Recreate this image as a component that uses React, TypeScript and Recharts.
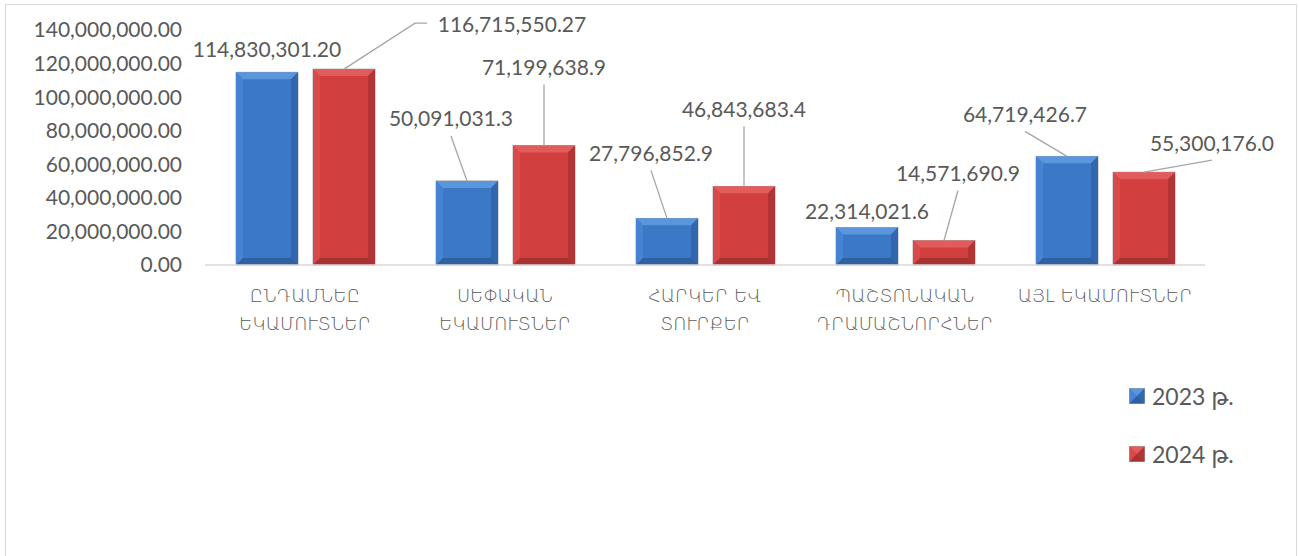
import { Bar, BarChart, LabelList, XAxis, YAxis } from "recharts";

const categories = [
  "ԸՆԴԱՄՆԵԸ\nԵԿԱՄՈՒՏՆԵՐ",
  "ՍԵՓԱԿԱՆ\nԵԿԱՄՈՒՏՆԵՐ",
  "ՀԱՐԿԵՐ ԵՎ\nՏՈՒՐՔԵՐ",
  "ՊԱՇՏՈՆԱԿԱՆ\nԴՐԱՄԱՇՆՈՐՀՆԵՐ",
  "ԱՅԼ ԵԿԱՄՈՒՏՆԵՐ",
];
const values2023 = [114830301.2, 50091031.3, 27796852.9, 22314021.6, 64719426.7];
const values2024 = [116715550.27, 71199638.9, 46843683.4, 14571690.9, 55300176.0];
const labelDecimals2023 = [2, 1, 1, 1, 1];
const labelDecimals2024 = [2, 1, 1, 1, 1];
const yTicks = [0, 20000000, 40000000, 60000000, 80000000, 100000000, 120000000, 140000000];
const seriesNames = ["2023 թ.", "2024 թ."];

// label placement relative to the top centre of each bar
const labelPos2023 = [
  { dx: 0, dy: -24, line: false },
  { dx: -16, dy: -63, line: true },
  { dx: -16, dy: -66, line: true },
  { dx: 0, dy: -17, line: false },
  { dx: -42, dy: -43, line: true },
];
const labelPos2024 = [
  { dx: 168, dy: -46, line: true, elbow: true },
  { dx: 0, dy: -79, line: true },
  { dx: 0, dy: -78, line: true },
  { dx: 14, dy: -68, line: true },
  { dx: 68, dy: -30, line: true },
];

const data = categories.map((name, i) => ({
  name,
  y2023: values2023[i],
  y2024: values2024[i],
}));

const FONT = "Lato, 'DejaVu Sans', sans-serif";
const TEXT = "#595959";

const fmt = (v: number, d: number) =>
  v.toLocaleString("en-US", { minimumFractionDigits: d, maximumFractionDigits: d });

const colors = {
  blue: { base: "#3b78c6", top: "#5a96dc", left: "#4683d2", right: "#3266ad", bottom: "#2f60a2" },
  red: { base: "#d23f3f", top: "#e25c5c", left: "#d84a4a", right: "#b13535", bottom: "#a83131" },
};

const bevelShape = (c: typeof colors.blue) => (props: any) => {
  const { x, y, width: w, height: h } = props;
  if (!h || h <= 0) return <g />;
  const b = Math.min(7, h / 2, w / 2);
  return (
    <g>
      <rect x={x} y={y} width={w} height={h} fill={c.base} stroke="#a0a0a0" strokeWidth={0.8} />
      <polygon points={`${x},${y} ${x + w},${y} ${x + w - b},${y + b} ${x + b},${y + b}`} fill={c.top} />
      <polygon points={`${x},${y} ${x + b},${y + b} ${x + b},${y + h - b} ${x},${y + h}`} fill={c.left} />
      <polygon points={`${x + w},${y} ${x + w - b},${y + b} ${x + w - b},${y + h - b} ${x + w},${y + h}`} fill={c.right} />
      <polygon points={`${x},${y + h} ${x + b},${y + h - b} ${x + w - b},${y + h - b} ${x + w},${y + h}`} fill={c.bottom} />
    </g>
  );
};

const makeLabel = (pos: any[], decimals: number[]) => (props: any) => {
  const { x, y, width, value, index } = props;
  const p = pos[index];
  const cx = x + width / 2;
  const lx = cx + p.dx;
  const ly = y + p.dy;
  const text = fmt(value, decimals[index]);
  let line = null;
  if (p.line) {
    if (p.elbow) {
      const left = lx - 75 - 10;
      line = (
        <polyline
          points={`${left},${ly} ${left - 12},${ly} ${cx},${y}`}
          fill="none"
          stroke="#a6a6a6"
          strokeWidth={1.3}
        />
      );
    } else {
      line = <line x1={lx} y1={ly + 18} x2={cx} y2={y} stroke="#a6a6a6" strokeWidth={1.3} />;
    }
  }
  return (
    <g>
      {line}
      <text x={lx} y={ly} textAnchor="middle" dominantBaseline="central" fontSize={21} fill={TEXT} fontFamily={FONT}>
        {text}
      </text>
    </g>
  );
};

const CategoryTick = (props: any) => {
  const { x, y, payload } = props;
  const lines = String(payload.value).split("\n");
  return (
    <text
      x={x}
      y={y}
      textAnchor="middle"
      fontSize={18}
      fontWeight={200}
      fill={TEXT}
      fontFamily="'DejaVu Sans', sans-serif"
    >
      {lines.map((l, i) => (
        <tspan key={i} x={x} dy={i === 0 ? 37 : 28}>
          {l}
        </tspan>
      ))}
    </text>
  );
};

const LegendBox = () => (
  <div style={{ fontFamily: FONT, color: TEXT, fontSize: 23 }}>
    {[colors.blue, colors.red].map((c, i) => (
      <div key={i} style={{ display: "flex", alignItems: "center", height: 29, marginBottom: i === 0 ? 29 : 0 }}>
        <svg width={16} height={16} style={{ marginRight: 7 }}>
          {bevelShape(c)({ x: 0.5, y: 0.5, width: 15, height: 15 })}
        </svg>
        <span>{seriesNames[i]}</span>
      </div>
    ))}
  </div>
);

const App = () => {
  return (
    <div style={{ position: "absolute", left: 0, top: 0, width: 1299, height: 556, background: "#fff", overflow: "hidden" }}>
      <div
        style={{
          position: "absolute",
          left: 5,
          top: 4,
          width: 1292,
          height: 570,
          border: "1.5px solid #d9d9d9",
          boxSizing: "border-box",
        }}
      />
      <div style={{ position: "absolute", left: 0, top: 0 }}>
        <BarChart
          width={1299}
          height={556}
          data={data}
          margin={{ top: 30, right: 94, bottom: 231, left: 15 }}
          barSize={62}
          barGap={15}
        >
          <XAxis
            dataKey="name"
            tick={<CategoryTick />}
            tickLine={false}
            tickSize={0}
            tickMargin={0}
            axisLine={{ stroke: "#d9d9d9", strokeWidth: 1.5 }}
            height={60}
            interval={0}
          />
          <YAxis
            width={190}
            domain={[0, 140000000]}
            ticks={yTicks}
            interval={0}
            tickFormatter={(v: number) => fmt(v, 2)}
            axisLine={false}
            tickLine={false}
            tickSize={0}
            tickMargin={23}
            tick={{ fontSize: 21, fill: TEXT, fontFamily: FONT }}
          />
          <Bar dataKey="y2023" name={seriesNames[0]} shape={bevelShape(colors.blue)} isAnimationActive={false}>
            <LabelList dataKey="y2023" content={makeLabel(labelPos2023, labelDecimals2023)} />
          </Bar>
          <Bar dataKey="y2024" name={seriesNames[1]} shape={bevelShape(colors.red)} isAnimationActive={false}>
            <LabelList dataKey="y2024" content={makeLabel(labelPos2024, labelDecimals2024)} />
          </Bar>
        </BarChart>
      </div>
      <div style={{ position: "absolute", left: 1129, top: 381 }}>
        <LegendBox />
      </div>
    </div>
  );
};

export default App;
